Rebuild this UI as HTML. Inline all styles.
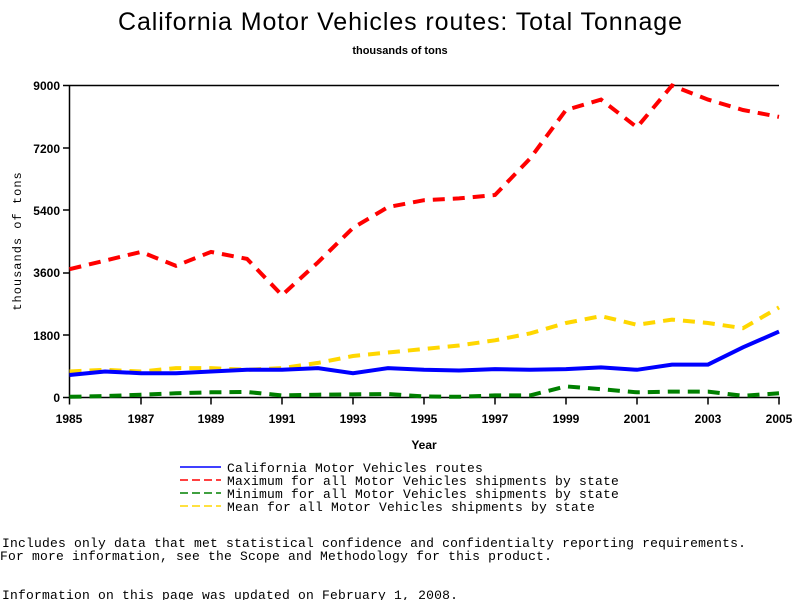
<!DOCTYPE html>
<html><head><style>
body{margin:0;background:#fff;width:800px;height:600px;overflow:hidden}
</style></head><body>
<svg width="800" height="600" xmlns="http://www.w3.org/2000/svg">
<text x="118" y="30" font-family="Liberation Sans, sans-serif" font-size="25" textLength="564" lengthAdjust="spacing">California Motor Vehicles routes: Total Tonnage</text>
<text x="400" y="54" font-family="Liberation Sans, sans-serif" font-size="11" font-weight="bold" text-anchor="middle">thousands of tons</text>
<g font-family="Liberation Sans, sans-serif" font-size="12" font-weight="bold" text-anchor="end">
<text x="60" y="90">9000</text><text x="60" y="153">7200</text><text x="60" y="215">5400</text><text x="60" y="277">3600</text><text x="60" y="340">1800</text><text x="60" y="402">0</text>
</g>
<g stroke="#000" stroke-width="1.5" fill="none">
<path d="M69.5 85.5 H779 M69.5 85.5 V397.5 H780"/>
<path d="M63 85.5H69.5M63 148H69.5M63 210H69.5M63 273H69.5M63 335H69.5M63 397.5H69.5"/>
<path d="M69.5 397.5v7M141 397.5v7M211 397.5v7M282 397.5v7M353 397.5v7M424 397.5v7M495 397.5v7M566 397.5v7M637 397.5v7M708 397.5v7M779 397.5v7"/>
</g>
<g font-family="Liberation Sans, sans-serif" font-size="12" font-weight="bold" text-anchor="middle">
<text x="69" y="423">1985</text><text x="141" y="423">1987</text><text x="211" y="423">1989</text><text x="282" y="423">1991</text><text x="353" y="423">1993</text><text x="424" y="423">1995</text><text x="495" y="423">1997</text><text x="566" y="423">1999</text><text x="637" y="423">2001</text><text x="708" y="423">2003</text><text x="779" y="423">2005</text>
<text x="424" y="449">Year</text>
</g>
<text transform="translate(21,241) rotate(-90)" font-family="Liberation Mono, monospace" font-size="12" text-anchor="middle" letter-spacing="1">thousands of tons</text>
<g fill="none" stroke-width="4" stroke-dasharray="12,8">
<polyline stroke="#ffd700" points="69.5,371.5 105,369.8 141,371.5 176,368.1 211,368.1 247,369.8 282,368.1 318,362.9 353,356 388,352.5 424,349 459,345.5 495,340.3 530,333.4 566,323 601,316.1 637,324.8 672,319.6 708,323 743,328.2 779,307.4"/>
<polyline stroke="#ff0000" points="69.5,269.2 105,260.6 141,251.9 176,265.8 211,251.9 247,258.9 282,295.2 318,262.3 353,227.9 388,207.1 424,200.2 459,198.4 495,195 530,158.6 566,110 601,99.6 637,127.3 672,85.5 708,99.6 743,110 779,116.9"/>
<polyline stroke="#008000" points="69.5,396.8 105,396.1 141,394.7 176,393.3 211,392.3 247,392 282,395.4 318,394.7 353,394.4 388,394 424,396.5 459,396.8 495,395.4 530,395.4 566,386.4 601,389.2 637,392.3 672,391.6 708,391.6 743,395.8 779,393.3"/>
</g>
<polyline fill="none" stroke="#0000ff" stroke-width="4" points="69.5,375 105,371.5 141,373.2 176,373.2 211,371.5 247,369.8 282,369.8 318,368.1 353,373.2 388,368.1 424,369.8 459,370.5 495,369.1 530,369.8 566,369.1 601,367.4 637,369.8 672,364.6 708,364.6 743,347.3 779,331.6"/>
<g stroke-width="1.5">
<line x1="180" y1="467" x2="221" y2="467" stroke="#0000ff"/>
<line x1="180" y1="480" x2="221" y2="480" stroke="#ff0000" stroke-dasharray="8,4"/>
<line x1="180" y1="493" x2="221" y2="493" stroke="#008000" stroke-dasharray="8,4"/>
<line x1="180" y1="506" x2="221" y2="506" stroke="#ffd700" stroke-dasharray="8,4"/>
</g>
<g font-family="Liberation Mono, monospace" font-size="13" letter-spacing="0.2">
<text x="227" y="472">California Motor Vehicles routes</text>
<text x="227" y="485">Maximum for all Motor Vehicles shipments by state</text>
<text x="227" y="498">Minimum for all Motor Vehicles shipments by state</text>
<text x="227" y="511">Mean for all Motor Vehicles shipments by state</text>
<text x="2" y="547">Includes only data that met statistical confidence and confidentialty reporting requirements.</text>
<text x="0" y="560">For more information, see the Scope and Methodology for this product.</text>
<text x="2" y="599">Information on this page was updated on February 1, 2008.</text>
</g>
</svg>
</body></html>
